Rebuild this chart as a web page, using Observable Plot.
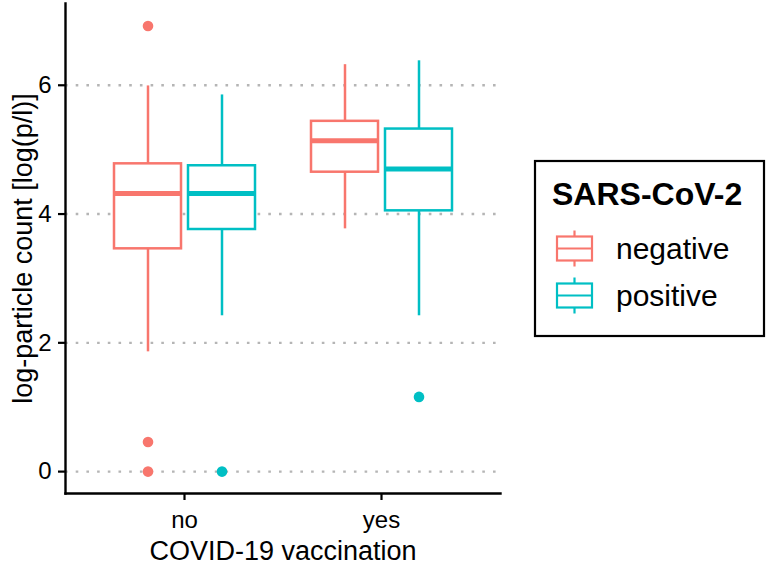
<!DOCTYPE html>
<html><head><meta charset="utf-8">
<script src="https://cdn.jsdelivr.net/npm/d3@7"></script>
<script src="https://cdn.jsdelivr.net/npm/@observablehq/plot@0.6"></script>
<style>
body{margin:0;background:#fff;}
#chart{position:relative;width:770px;height:565px;font-family:"Liberation Sans",Arial,sans-serif;}
#chart svg{position:absolute;left:0;top:0;}
</style></head><body><div id="chart"></div>
<script>
// ---- data ----
const vaccination = ["no", "yes"];
const status = ["negative", "positive"];
const colors = ["#F8766D", "#00BFC4"];
const boxVacc = ["no", "no", "yes", "yes"];
const boxStatus = ["negative", "positive", "negative", "positive"];
const lowerWhisker = [1.86, 2.42, 3.77, 2.42];
const q1 = [3.46, 3.76, 4.65, 4.05];
const median = [4.32, 4.32, 5.14, 4.70];
const q3 = [4.78, 4.75, 5.44, 5.32];
const upperWhisker = [5.99, 5.85, 6.32, 6.38];
const outlierVacc = ["no", "no", "no", "no", "yes"];
const outlierStatus = ["negative", "negative", "negative", "positive", "positive"];
const outlierValue = [6.92, 0.46, 0.0, 0.0, 1.16];
const yTicks = [0, 2, 4, 6];
const yDomain = [-0.34, 7.27];
const xTitle = "COVID-19 vaccination";
const yTitle = "log-particle count [log(p/l)]";
const legendTitle = "SARS-CoV-2";

// ---- tables ----
const boxes = boxVacc.map((v, i) => ({vaccination: v, status: boxStatus[i], lo: lowerWhisker[i], q1: q1[i], med: median[i], q3: q3[i], hi: upperWhisker[i]}));
const outliers = outlierVacc.map((v, i) => ({vaccination: v, status: outlierStatus[i], value: outlierValue[i]}));

const W = 770, H = 565, mL = 65, mR = 270, mT = 3, mB = 72;
const font = '"Liberation Sans", Arial, sans-serif';
const chart = document.getElementById("chart");

// ---- base layer: grid, axes, titles ----
const baseLayer = Plot.plot({
  width: W, height: H, marginLeft: mL, marginRight: mR, marginTop: mT, marginBottom: mB,
  style: {fontFamily: font, color: "black", background: "transparent", overflow: "visible"},
  x: {type: "band", domain: vaccination, padding: 0.2},
  y: {domain: yDomain},
  marks: [
    Plot.ruleY(yTicks, {stroke: "#b5b5b5", strokeWidth: 2.4, strokeDasharray: "2.6,8.1"}),
    Plot.axisY(yTicks, {tickSize: 7, tickPadding: 7, fontSize: 24, strokeWidth: 2.2, label: null, tickFormat: d3.format("d")}),
    Plot.axisX({tickSize: 7, tickPadding: 10, fontSize: 24, strokeWidth: 2.2, label: null}),
    Plot.frame({anchor: "left", strokeWidth: 2.4}),
    Plot.frame({anchor: "bottom", strokeWidth: 2.4}),
    Plot.text([xTitle], {frameAnchor: "bottom", lineAnchor: "top", dy: 47, fontSize: 27}),
    Plot.text([yTitle], {frameAnchor: "left", textAnchor: "middle", rotate: -90, lineAnchor: "top", dx: -53, fontSize: 27})
  ]
});
chart.append(baseLayer);

// ---- box layer (dodged via facets) ----
const boxLayer = Plot.plot({
  width: W, height: H, marginLeft: mL, marginRight: mR, marginTop: mT, marginBottom: mB,
  style: {fontFamily: font, background: "transparent", overflow: "visible"},
  fx: {domain: vaccination, paddingInner: 0, paddingOuter: 0.1, axis: null, label: null},
  x: {domain: status, paddingInner: 0.1, paddingOuter: 0.377, axis: null},
  y: {domain: yDomain, axis: null},
  color: {domain: status, range: colors},
  marks: [
    Plot.ruleX(boxes, {fx: "vaccination", x: "status", y1: "lo", y2: "q1", stroke: "status", strokeWidth: 2.5}),
    Plot.ruleX(boxes, {fx: "vaccination", x: "status", y1: "q3", y2: "hi", stroke: "status", strokeWidth: 2.5}),
    Plot.barY(boxes, {fx: "vaccination", x: "status", y1: "q1", y2: "q3", fill: "white", stroke: "status", strokeWidth: 2.5}),
    Plot.tickY(boxes, {fx: "vaccination", x: "status", y: "med", stroke: "status", strokeWidth: 5}),
    Plot.dot(outliers, {fx: "vaccination", x: "status", y: "value", fill: "status", r: 5.3})
  ]
});
chart.append(boxLayer);

// ---- legend ----
const leg = d3.select(chart).append("svg").attr("width", W).attr("height", H)
  .style("font-family", font);
leg.append("rect").attr("x", 535).attr("y", 161).attr("width", 229).attr("height", 175)
  .attr("fill", "white").attr("stroke", "black").attr("stroke-width", 2.2);
leg.append("text").attr("x", 552).attr("y", 204.5).attr("font-weight", "bold").attr("font-size", 32)
  .attr("fill", "black").text(legendTitle);
status.forEach((s, i) => {
  const cy = 248.5 + i * 47;
  const g = leg.append("g").attr("stroke", colors[i]).attr("stroke-width", 2.2).attr("fill", "white");
  g.append("line").attr("x1", 574.5).attr("x2", 574.5).attr("y1", cy - 18).attr("y2", cy + 18);
  g.append("rect").attr("x", 557).attr("y", cy - 12).attr("width", 35).attr("height", 24);
  g.append("line").attr("x1", 557).attr("x2", 592).attr("y1", cy).attr("y2", cy);
  leg.append("text").attr("x", 616).attr("y", cy + 10.8).attr("font-size", 30).attr("fill", "black").text(s);
});
</script></body></html>
